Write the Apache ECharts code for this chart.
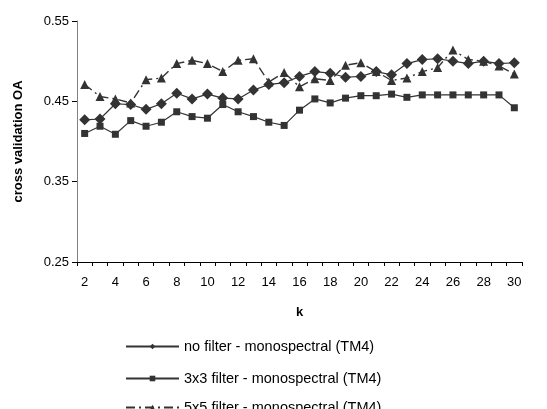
<!DOCTYPE html>
<html lang="en">
  <head>
    <meta charset="UTF-8" />
    <title>cross validation OA</title>
    <script src="https://cdn.jsdelivr.net/npm/echarts@6/dist/echarts.min.js"></script>
  </head>
  <style>
    html, body { margin: 0; padding: 0; background: #fff; }
  </style>
  <body>
    <div id="box" style="width: 547px; height: 409px"></div>
  </body>
  <script>
    // k values (x axis)
    var kValues = ["2","3","4","5","6","7","8","9","10","11","12","13","14","15","16",
      "17","18","19","20","21","22","23","24","25","26","27","28","29","30"];
    var yTicks = [0.25, 0.35, 0.45, 0.55];

    // cross validation OA per k
    var noFilter = [0.427, 0.428, 0.447, 0.446, 0.440, 0.447, 0.460, 0.453, 0.459, 0.454,
      0.453, 0.464, 0.471, 0.473, 0.481, 0.487, 0.485, 0.480, 0.481, 0.487,
      0.483, 0.497, 0.502, 0.503, 0.500, 0.497, 0.500, 0.497, 0.498];
    var filter3 = [0.410, 0.419, 0.409, 0.426, 0.419, 0.424, 0.437, 0.431, 0.429, 0.446,
      0.437, 0.431, 0.424, 0.420, 0.439, 0.453, 0.448, 0.454, 0.457, 0.457,
      0.459, 0.455, 0.458, 0.458, 0.458, 0.458, 0.458, 0.458, 0.442];
    var filter5 = [0.471, 0.456, 0.453, 0.448, 0.477, 0.479, 0.497, 0.501, 0.497, 0.487,
      0.501, 0.503, 0.474, 0.486, 0.468, 0.478, 0.476, 0.495, 0.498, 0.487,
      0.476, 0.479, 0.487, 0.492, 0.514, 0.502, 0.500, 0.494, 0.484];

    var names = [
      "no filter - monospectral (TM4)",
      "3x3 filter - monospectral (TM4)",
      "5x5 filter - monospectral (TM4)",
    ];
    var legendTops = [334, 366, 395];

    var lineColor = "#333333";
    var font = "Liberation Sans, Arial, sans-serif";

    var myChart = echarts.init(document.getElementById("box"));

    // one legend per entry so they stack like the original
    function makeLegends() {
      return names.map(function (n, i) {
        return {
          orient: "vertical",
          left: 120,
          top: legendTops[i],
          itemWidth: 53,
          itemHeight: 7,
          textStyle: { fontFamily: font, fontSize: 14.5, color: "#000" },
          data: [n],
        };
      });
    }

    function getoption() {
      return {
        animation: false,
        grid: { left: 77, right: 25, top: 21, bottom: 147 },
        legend: makeLegends(),
        xAxis: {
          type: "category",
          data: kValues,
          name: "k",
          nameLocation: "middle",
          nameGap: 44,
          nameTextStyle: { fontFamily: font, fontSize: 13, fontWeight: "bold", color: "#000" },
          axisLine: { lineStyle: { color: "#000", width: 1 } },
          axisTick: { show: true, interval: 0, length: 4, lineStyle: { color: "#000" } },
          axisLabel: { interval: 1, margin: 14, fontFamily: font, fontSize: 13, color: "#000" },
          splitLine: { show: false },
        },
        yAxis: {
          type: "value",
          min: yTicks[0],
          max: yTicks[yTicks.length - 1],
          interval: 0.1,
          name: "cross validation OA",
          nameLocation: "middle",
          nameRotate: 90,
          nameGap: 52,
          nameTextStyle: { fontFamily: font, fontSize: 13, fontWeight: "bold", color: "#000" },
          axisLine: { show: true, lineStyle: { color: "#808080", width: 1 } },
          axisTick: { show: true, length: 5, lineStyle: { color: "#000" } },
          axisLabel: {
            fontFamily: font,
            fontSize: 13,
            color: "#000",
            margin: 8,
            formatter: function (v) { return v.toFixed(2); },
          },
          splitLine: { show: false },
        },
        series: [
          {
            name: names[0],
            type: "line",
            data: noFilter,
            symbol: "diamond",
            symbolSize: 11,
            showAllSymbol: true,
            itemStyle: { color: lineColor },
            lineStyle: { color: lineColor, width: 1.2 },
          },
          {
            name: names[1],
            type: "line",
            data: filter3,
            symbol: "rect",
            symbolSize: 7,
            showAllSymbol: true,
            itemStyle: { color: lineColor },
            lineStyle: { color: lineColor, width: 1.2 },
          },
          {
            name: names[2],
            type: "line",
            data: filter5,
            symbol: "triangle",
            symbolSize: 9,
            showAllSymbol: true,
            itemStyle: { color: lineColor },
            lineStyle: { color: lineColor, width: 1.4, type: [9, 4, 2, 4] },
          },
        ],
      };
    }
    var option = getoption();
    myChart.setOption(option);
  </script>
</html>
